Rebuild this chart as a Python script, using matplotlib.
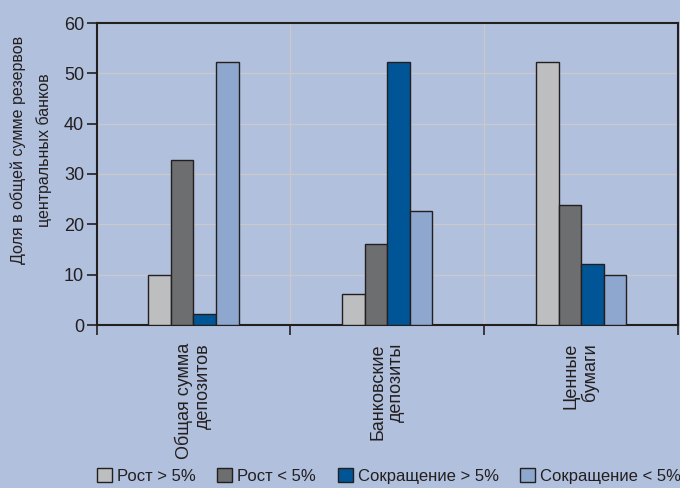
import numpy as np
import matplotlib
matplotlib.use('Agg')
import matplotlib.pyplot as plt
from matplotlib.patches import Patch

plt.rcParams['font.family'] = ['Liberation Sans', 'DejaVu Sans']

# shares of central bank reserves, per asset class
categories = ['Общая сумма\nдепозитов', 'Банковские\nдепозиты', 'Ценные\nбумаги']
series = ['Рост > 5%', 'Рост < 5%', 'Сокращение > 5%', 'Сокращение < 5%']
values = [
    [10.0, 6.1, 52.2],    # Рост > 5%
    [32.8, 16.1, 23.9],   # Рост < 5%
    [2.2, 52.2, 12.2],    # Сокращение > 5%
    [52.2, 22.7, 10.0],   # Сокращение < 5%
]
colors = ['#bdbec0', '#6d6e70', '#005596', '#8ea7cf']

bg = '#b1c0dc'
edge = '#231f20'

fig = plt.figure(figsize=(6.8, 4.88), dpi=100, facecolor=bg)
ax = fig.add_axes([96.5/680, 1-325/488, (678-96.5)/680, (325-23)/488])
ax.set_facecolor(bg)

x = np.arange(len(categories)) + 0.5
w = 0.1165
for i, (vals, c) in enumerate(zip(values, colors)):
    ax.bar(x + (i - 1.5)*w, vals, w, color=c, edgecolor=edge, linewidth=1.0, zorder=3)

ax.set_xlim(0, 3)
ax.set_ylim(0, 60)
ax.set_yticks(range(0, 61, 10))
ax.set_xticks([0, 1, 2, 3])
ax.set_xticklabels([])
ax.set_xticks(x, minor=True)
ax.set_xticklabels(categories, minor=True, rotation=90, ha='center', va='top',
                   multialignment='right', fontsize=13, color=edge, linespacing=1.1)
ax.tick_params(axis='x', which='minor', length=0, pad=13)
ax.tick_params(axis='x', which='major', length=7, width=1.2, direction='out', color=edge)
ax.tick_params(axis='y', length=7, width=1.2, direction='out', color=edge, labelsize=13,
               labelcolor=edge, pad=2)

ax.grid(True, which='major', color='#c9c9cc', linewidth=1.0, zorder=0)
for s in ax.spines.values():
    s.set_color(edge)
    s.set_linewidth(1.5)

ax.set_ylabel('Доля в общей сумме резервов\nцентральных банков', fontsize=11.5,
              color=edge, linespacing=1.85)
ax.yaxis.set_label_coords(-0.076, 0.58)

handles = [Patch(facecolor=c, edgecolor=edge, linewidth=1.0) for c in colors]
fig.legend(handles, series, loc='center left', bbox_to_anchor=(90/680, 1-476/488), ncol=4,
           frameon=False, fontsize=12, handlelength=0.9, handleheight=0.9,
           handletextpad=0.3, columnspacing=1.3, labelcolor=edge, borderaxespad=0)

fig.savefig('out.png', dpi=100, facecolor=bg)
